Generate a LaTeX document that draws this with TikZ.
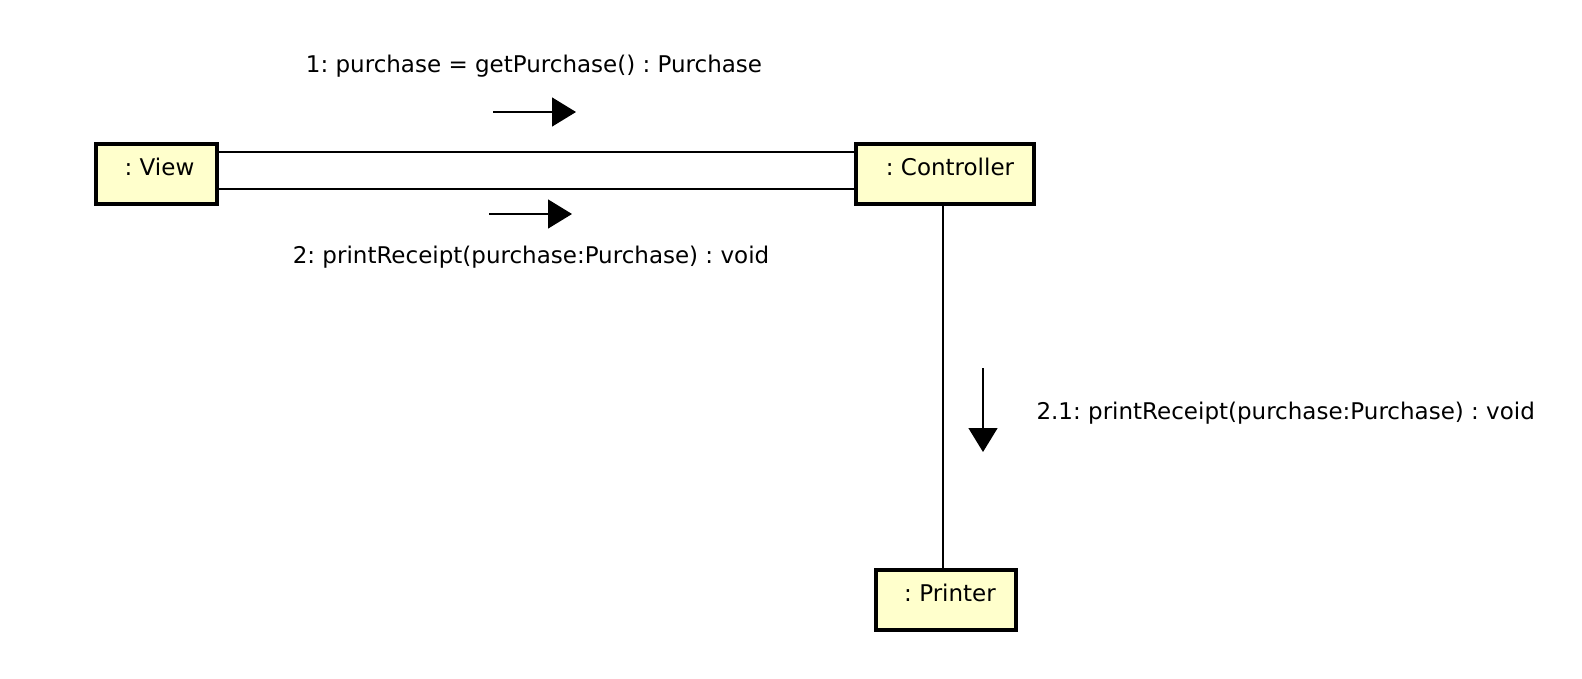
\documentclass[tikz,border=0pt]{standalone}
\usepackage{fontspec}
\setmainfont{DejaVu Sans}
\usetikzlibrary{arrows.meta}
\definecolor{objfill}{HTML}{FFFFCC}
\tikzset{
  obj/.style={draw=black, line width=4pt, fill=objfill, minimum height=60pt, inner sep=0pt, anchor=north west},
  link/.style={draw=black, line width=1.4pt},
  msg/.style={draw=black, line width=1.4pt, -{Triangle[length=24pt,width=29pt]}},
  lbl/.style={font=\fontsize{23}{26}\selectfont}
}
\begin{document}
\frenchspacing
\begin{tikzpicture}[x=1pt,y=-1pt]
\useasboundingbox (0,0) rectangle (1582,678);
\node[obj, minimum width=121pt] (view) at (94,142) {};
\node[obj, minimum width=178pt] (ctrl) at (854,142) {};
\node[obj, minimum width=140pt] (prn) at (874,568) {};
\node[lbl, xshift=3pt, yshift=7pt] (viewt) at (view.center) {: View};
\node[lbl, xshift=5pt, yshift=7pt] (ctrlt) at (ctrl.center) {: Controller};
\node[lbl, xshift=4pt, yshift=7pt] (prnt) at (prn.center) {: Printer};
\coordinate (vu) at (view.east |- 0,152);
\coordinate (vl) at (view.east |- 0,189);
\coordinate (cu) at (ctrl.west |- 0,152);
\coordinate (cl) at (ctrl.west |- 0,189);
\draw[link] (vu) -- (cu);
\draw[link] (vl) -- (cl);
\coordinate (cb) at (943,0);
\draw[link] (ctrl.south -| cb) -- (prn.north -| cb);
\coordinate (a1s) at (493,112);
\coordinate (a1e) at (576,112);
\draw[msg] (a1s) -- (a1e);
\coordinate (a2s) at (489,214);
\coordinate (a2e) at (572,214);
\draw[msg] (a2s) -- (a2e);
\coordinate (a3s) at (983,368);
\coordinate (a3e) at (983,452);
\draw[msg] (a3s) -- (a3e);
\node[lbl] (l1) at (534,66) {1: purchase = getPurchase() : Purchase};
\node[lbl] (l2) at (531,257) {2: printReceipt(purchase:Purchase) : void};
\node[lbl, anchor=west] (l3) at (1033,413) {2.1: printReceipt(purchase:Purchase) : void};
\end{tikzpicture}
\end{document}
